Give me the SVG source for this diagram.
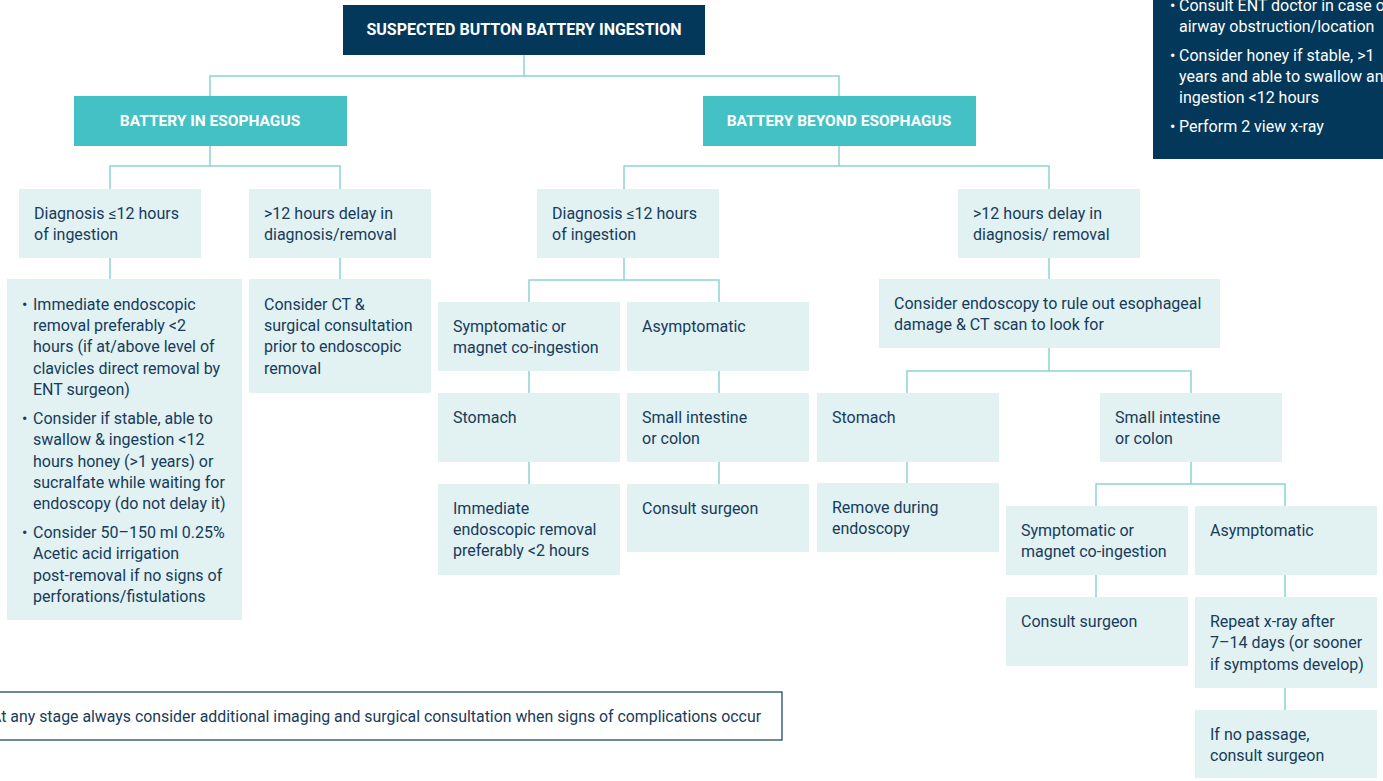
<svg xmlns="http://www.w3.org/2000/svg" width="1383" height="781" viewBox="0 0 1383 781">
<style>
.dark{fill:#03385a}
.teal{fill:#43c1c4}
.light{fill:#e2f1f2}
.hd{font-family:Roboto,"Liberation Sans",sans-serif;font-weight:700;font-size:15.5px;fill:#ffffff;text-anchor:middle}
.tx{font-family:Roboto,"Liberation Sans",sans-serif;font-size:16px;fill:#163b5c}
.wt{font-family:Roboto,"Liberation Sans",sans-serif;font-size:16px;fill:#ffffff}
.con{fill:none;stroke:#8dd4d6;stroke-width:1.5}
</style>
<rect x="0" y="0" width="1383" height="781" fill="#ffffff"/>
<g id="connectors" class="con">
<path d="M524 55V76M210 96V76H839V96"/>
<path d="M210 146V166M110 189V166H340V189"/>
<path d="M110 258V279M340 258V279"/>
<path d="M839 146V166M624 189V166H1049V189"/>
<path d="M624 258V280M529 302V280H719V302"/>
<path d="M529 371V393M529 462V484M719 371V393M719 462V484"/>
<path d="M1049 258V279"/>
<path d="M1049 348V371M907 393V371H1191V393"/>
<path d="M907 462V483"/>
<path d="M1191 462V484M1096 506V484H1285V506"/>
<path d="M1096 575V597M1285 575V597M1285 688V710"/>
</g>
<g id="title"><rect class="dark" x="343" y="5" width="362" height="50"/><text class="hd" x="524" y="35" style="font-size:16px">SUSPECTED BUTTON BATTERY INGESTION</text></g>
<g id="info"><rect class="dark" x="1153" y="-10" width="240" height="169"/>
<text class="wt"><tspan x="1170" y="11">•</tspan><tspan x="1179" y="11">Consult ENT doctor in case of</tspan><tspan x="1179" y="32">airway obstruction/location</tspan><tspan x="1170" y="61">•</tspan><tspan x="1179" y="61">Consider honey if stable, &gt;1</tspan><tspan x="1179" y="82">years and able to swallow and</tspan><tspan x="1179" y="103">ingestion &lt;12 hours</tspan><tspan x="1170" y="132">•</tspan><tspan x="1179" y="132">Perform 2 view x-ray</tspan></text></g>
<g id="esoph"><rect class="teal" x="74" y="96" width="273" height="50"/><text class="hd" x="210" y="126">BATTERY IN ESOPHAGUS</text></g>
<g id="beyond"><rect class="teal" x="703" y="96" width="273" height="50"/><text class="hd" x="839" y="126">BATTERY BEYOND ESOPHAGUS</text></g>
<g id="e-diag"><rect class="light" x="19" y="189" width="182" height="69"/><text class="tx"><tspan x="34" y="219">Diagnosis ≤12 hours</tspan><tspan x="34" y="240">of ingestion</tspan></text></g>
<g id="e-delay"><rect class="light" x="249" y="189" width="182" height="69"/><text class="tx"><tspan x="264" y="219">&gt;12 hours delay in</tspan><tspan x="264" y="240">diagnosis/removal</tspan></text></g>
<g id="e-actions"><rect class="light" x="7" y="279" width="235" height="341"/>
<text class="tx"><tspan x="22" y="310">•</tspan><tspan x="33" y="310">Immediate endoscopic</tspan><tspan x="33" y="331">removal preferably &lt;2</tspan><tspan x="33" y="352">hours (if at/above level of</tspan><tspan x="33" y="374">clavicles direct removal by</tspan><tspan x="33" y="395">ENT surgeon)</tspan><tspan x="22" y="424">•</tspan><tspan x="33" y="424">Consider if stable, able to</tspan><tspan x="33" y="445">swallow &amp; ingestion &lt;12</tspan><tspan x="33" y="467">hours honey (&gt;1 years) or</tspan><tspan x="33" y="488">sucralfate while waiting for</tspan><tspan x="33" y="509">endoscopy (do not delay it)</tspan><tspan x="22" y="538">•</tspan><tspan x="33" y="538">Consider 50–150 ml 0.25%</tspan><tspan x="33" y="559">Acetic acid irrigation</tspan><tspan x="33" y="581">post-removal if no signs of</tspan><tspan x="33" y="602">perforations/fistulations</tspan></text></g>
<g id="e-ct"><rect class="light" x="249" y="279" width="182" height="114"/><text class="tx"><tspan x="264" y="310">Consider CT &amp;</tspan><tspan x="264" y="331">surgical consultation</tspan><tspan x="264" y="352">prior to endoscopic</tspan><tspan x="264" y="374">removal</tspan></text></g>
<g id="b-diag"><rect class="light" x="537" y="189" width="182" height="69"/><text class="tx"><tspan x="552" y="219">Diagnosis ≤12 hours</tspan><tspan x="552" y="240">of ingestion</tspan></text></g>
<g id="b-sym"><rect class="light" x="438" y="302" width="182" height="69"/><text class="tx"><tspan x="453" y="332">Symptomatic or</tspan><tspan x="453" y="353">magnet co-ingestion</tspan></text></g>
<g id="b-asym"><rect class="light" x="627" y="302" width="182" height="69"/><text class="tx" x="642" y="332">Asymptomatic</text></g>
<g id="b-stom"><rect class="light" x="438" y="393" width="182" height="69"/><text class="tx" x="453" y="423">Stomach</text></g>
<g id="b-si"><rect class="light" x="627" y="393" width="182" height="69"/><text class="tx"><tspan x="642" y="423">Small intestine</tspan><tspan x="642" y="444">or colon</tspan></text></g>
<g id="b-imm"><rect class="light" x="438" y="484" width="182" height="91"/><text class="tx"><tspan x="453" y="514">Immediate</tspan><tspan x="453" y="535">endoscopic removal</tspan><tspan x="453" y="556">preferably &lt;2 hours</tspan></text></g>
<g id="b-cons"><rect class="light" x="627" y="484" width="182" height="68"/><text class="tx" x="642" y="514">Consult surgeon</text></g>
<g id="d-delay"><rect class="light" x="958" y="189" width="182" height="69"/><text class="tx"><tspan x="973" y="219">&gt;12 hours delay in</tspan><tspan x="973" y="240">diagnosis/ removal</tspan></text></g>
<g id="d-endo"><rect class="light" x="879" y="279" width="341" height="69"/><text class="tx"><tspan x="894" y="309">Consider endoscopy to rule out esophageal</tspan><tspan x="894" y="330">damage &amp; CT scan to look for</tspan></text></g>
<g id="d-stom"><rect class="light" x="817" y="393" width="182" height="69"/><text class="tx" x="832" y="423">Stomach</text></g>
<g id="d-si"><rect class="light" x="1100" y="393" width="182" height="69"/><text class="tx"><tspan x="1115" y="423">Small intestine</tspan><tspan x="1115" y="444">or colon</tspan></text></g>
<g id="d-remove"><rect class="light" x="817" y="483" width="182" height="69"/><text class="tx"><tspan x="832" y="513">Remove during</tspan><tspan x="832" y="534">endoscopy</tspan></text></g>
<g id="d-sym"><rect class="light" x="1006" y="506" width="182" height="69"/><text class="tx"><tspan x="1021" y="536">Symptomatic or</tspan><tspan x="1021" y="557">magnet co-ingestion</tspan></text></g>
<g id="d-asym"><rect class="light" x="1195" y="506" width="182" height="69"/><text class="tx" x="1210" y="536">Asymptomatic</text></g>
<g id="d-cons"><rect class="light" x="1006" y="597" width="182" height="69"/><text class="tx" x="1021" y="627">Consult surgeon</text></g>
<g id="d-repeat"><rect class="light" x="1195" y="597" width="182" height="91"/><text class="tx"><tspan x="1210" y="627">Repeat x-ray after</tspan><tspan x="1210" y="648">7–14 days (or sooner</tspan><tspan x="1210" y="670">if symptoms develop)</tspan></text></g>
<g id="d-nopass"><rect class="light" x="1195" y="710" width="182" height="68"/><text class="tx"><tspan x="1210" y="740">If no passage,</tspan><tspan x="1210" y="761">consult surgeon</tspan></text></g>
<g id="note"><rect x="-2" y="692" width="784" height="48" fill="#ffffff" stroke="#1f4a6a" stroke-width="1.3"/><text class="tx" x="-9" y="722" textLength="770" lengthAdjust="spacingAndGlyphs">At any stage always consider additional imaging and surgical consultation when signs of complications occur</text></g>
</svg>
